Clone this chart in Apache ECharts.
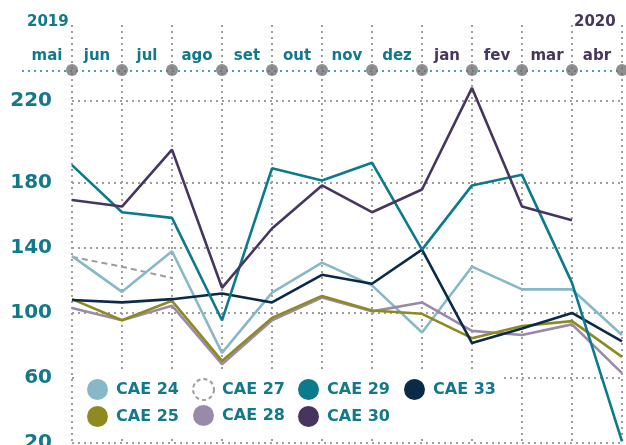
<!DOCTYPE html>
<html>
<head>
<meta charset="utf-8">
<script src="https://cdn.jsdelivr.net/npm/echarts@6/dist/echarts.min.js"></script>
<style>
html, body { margin: 0; padding: 0; background: #fff; }
#chart { width: 626px; height: 445px; }
</style>
</head>
<body>
<div id="chart"></div>
<script>
// meses (rótulos entre as linhas) e pontos no fim de cada mês
var months = ['mai', 'jun', 'jul', 'ago', 'set', 'out', 'nov', 'dez', 'jan', 'fev', 'mar', 'abr'];
var monthYear = [2019, 2019, 2019, 2019, 2019, 2019, 2019, 2019, 2020, 2020, 2020, 2020];

// séries
var cae24 = [135, 113, 138, 75.5, 112.5, 131, 117, 88, 128.5, 114.5, 114.5, 86.5];
var cae25 = [108.5, 95.5, 107.5, 70.5, 97, 110.5, 101.5, 99.5, 84.5, 92, 95, 73];
var cae27 = [134.5, 128.5, 121.5, null, null, null, null, null, null, null, null, null];
var cae28 = [103, 95.5, 104.5, 68.5, 95.5, 109.5, 101, 106.5, 89, 86.5, 93, 63];
var cae29 = [191, 162, 158.5, 95.5, 189, 181.5, 192.5, 139, 178.5, 185, 118.5, 21];
var cae30 = [169.5, 165.5, 200.5, 115.5, 152, 178.5, 162, 176, 238.5, 165.5, 157, null];
var cae33 = [108, 106.5, 108.5, 112, 106.5, 123.5, 118, 139, 81.5, 90.5, 100, 82.5];

// eixo y: posições das linhas e os textos como aparecem
var yTickValues = [20, 60, 100, 140, 180, 230.5];
var yTickLabels = ['20', '60', '100', '140', '180', '220'];

var TEAL = '#12798b';
var PURPLE = '#46365f';
var GRID = '#9d9d9d';
var FONT = 'DejaVu Sans';
var DOTS = {color: GRID, width: 2, type: [2, 4], cap: 'butt'};

var colors = {
    'CAE 24': '#87b8c7',
    'CAE 25': '#8d8b20',
    'CAE 27': '#9c9c9c',
    'CAE 28': '#9c89aa',
    'CAE 29': '#0b7a8c',
    'CAE 30': '#46355f',
    'CAE 33': '#0a2a48'
};

function lineSeries(name, data, dashed) {
    return {
        name: name,
        type: 'line',
        xAxisIndex: 0,
        yAxisIndex: 0,
        data: data,
        showSymbol: false,
        symbol: 'none',
        connectNulls: false,
        z: 3,
        itemStyle: {color: colors[name]},
        lineStyle: {color: colors[name], width: dashed ? 2 : 2.6, type: dashed ? [6, 4] : 'solid'}
    };
}

function legendCol(left, top, gap, names) {
    return {
        orient: 'vertical',
        left: left,
        top: top,
        padding: 0,
        itemWidth: 21,
        itemHeight: 21,
        itemGap: gap,
        icon: 'circle',
        selectedMode: false,
        z: 10,
        textStyle: {color: TEAL, fontFamily: FONT, fontWeight: 'bold', fontSize: 16, padding: [0, 0, 0, 3]},
        data: names.map(function (n) {
            if (n === 'CAE 27')
                return {name: n, itemStyle: {color: '#fff', borderColor: colors[n], borderWidth: 2, borderType: [4, 3]}};
            return {name: n, itemStyle: {color: colors[n]}};
        })
    };
}

var chart = echarts.init(document.getElementById('chart'));

chart.setOption({
    animation: false,
    backgroundColor: '#fff',
    grid: [
        {left: 72, right: 4, top: 25, bottom: 2, outerBoundsMode: 'none'},
        {left: 22, right: 4, top: 70, height: 1, outerBoundsMode: 'none'}
    ],
    xAxis: [
        {
            gridIndex: 0,
            type: 'category',
            boundaryGap: false,
            data: months,
            axisLine: {show: false},
            axisTick: {show: false},
            axisLabel: {show: false},
            splitLine: {show: true, interval: 0, lineStyle: DOTS}
        },
        {
            gridIndex: 1,
            type: 'category',
            position: 'top',
            boundaryGap: true,
            data: months.map(function (m, i) {
                return {value: m, textStyle: {color: monthYear[i] === 2020 ? PURPLE : TEAL}};
            }),
            axisLine: {show: true, lineStyle: {color: '#45a0b2', width: 2, type: [2, 4], cap: 'butt'}},
            axisTick: {show: false},
            axisLabel: {margin: 6, fontFamily: FONT, fontWeight: 'bold', fontSize: 15},
            splitLine: {show: false}
        },
        {
            gridIndex: 1,
            type: 'value',
            min: 0,
            max: 12,
            show: false
        }
    ],
    yAxis: [
        {
            gridIndex: 0,
            type: 'value',
            min: 20,
            max: 277.2,
            axisLine: {show: false},
            axisTick: {show: false, customValues: yTickValues},
            axisLabel: {
                customValues: yTickValues,
                margin: 20,
                color: TEAL,
                fontFamily: FONT,
                fontWeight: 'bold',
                fontSize: 20,
                formatter: function (v) {
                    var i = yTickValues.indexOf(v);
                    return i >= 0 ? yTickLabels[i] : '';
                }
            },
            splitLine: {show: true, lineStyle: DOTS}
        },
        {
            gridIndex: 1,
            type: 'value',
            min: 0,
            max: 1,
            show: false
        }
    ],
    legend: [
        legendCol(87, 379, 6, ['CAE 24', 'CAE 25']),
        legendCol(192, 378, 4, ['CAE 27', 'CAE 28']),
        legendCol(298, 379, 6, ['CAE 29', 'CAE 30']),
        legendCol(404, 379, 6, ['CAE 33'])
    ],
    graphic: [
        {type: 'rect', shape: {x: 74, y: 371, width: 429, height: 65}, style: {fill: '#fff'}, z: 5, silent: true},
        {type: 'text', x: 27, y: 22, style: {text: '2019', fill: TEAL, font: 'bold 15px ' + FONT, verticalAlign: 'middle'}, z: 5},
        {type: 'text', x: 574, y: 22, style: {text: '2020', fill: PURPLE, font: 'bold 15px ' + FONT, verticalAlign: 'middle'}, z: 5}
    ],
    series: [
        lineSeries('CAE 27', cae27, true),
        lineSeries('CAE 24', cae24),
        lineSeries('CAE 28', cae28),
        lineSeries('CAE 25', cae25),
        lineSeries('CAE 33', cae33),
        lineSeries('CAE 29', cae29),
        lineSeries('CAE 30', cae30),
        {
            // marcadores cinzentos sobre a linha dos meses
            type: 'scatter',
            xAxisIndex: 2,
            yAxisIndex: 1,
            silent: true,
            symbolSize: 12,
            z: 4,
            itemStyle: {color: '#737373'},
            data: months.map(function (m, i) { return [i + 1, 1]; })
        }
    ]
});
</script>
</body>
</html>
